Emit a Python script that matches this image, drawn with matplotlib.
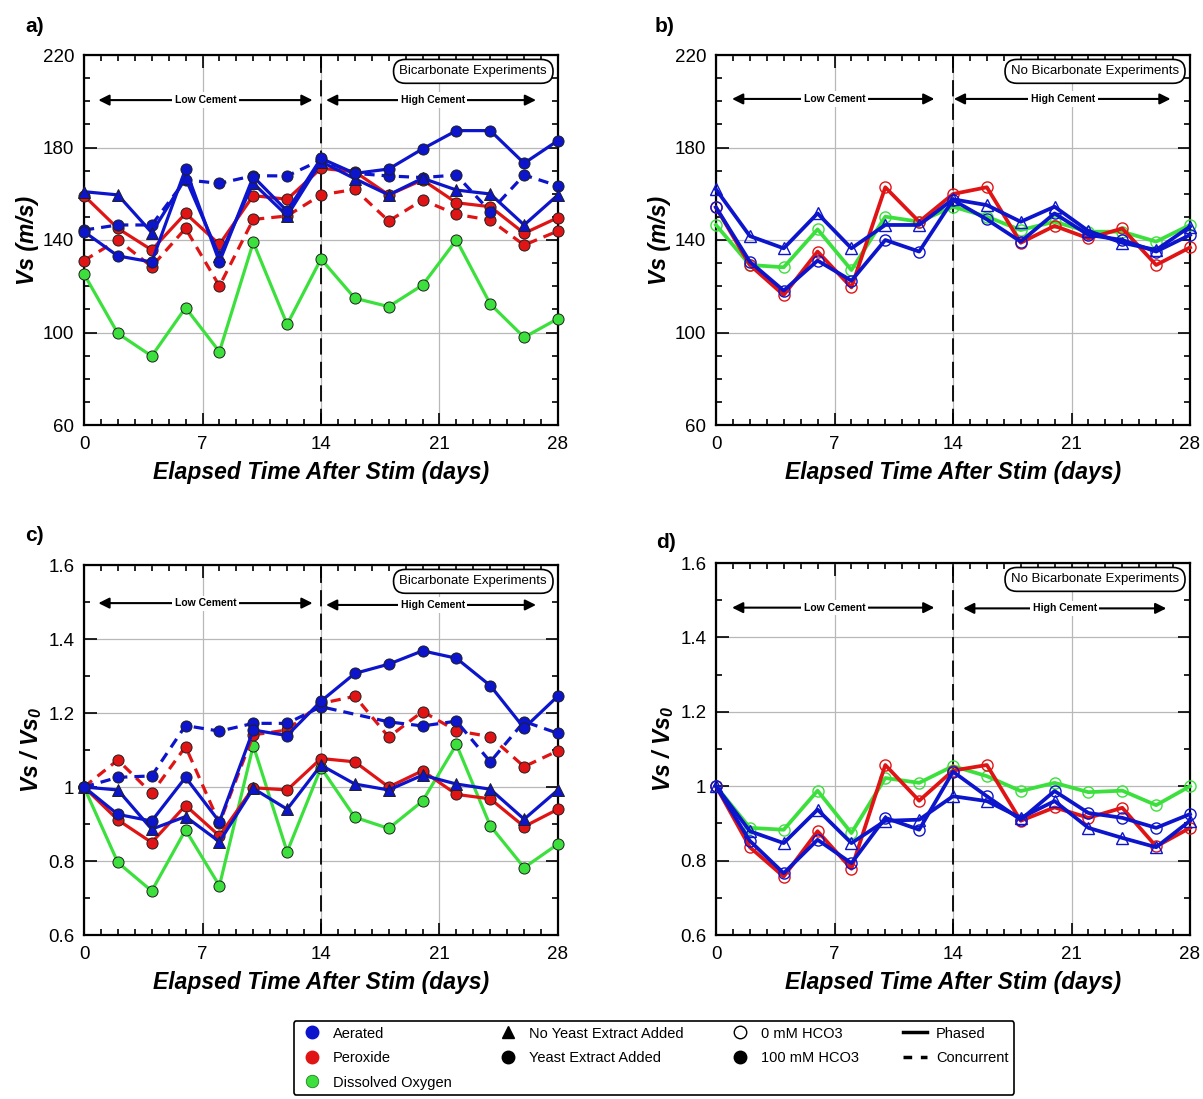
import matplotlib
matplotlib.use("Agg")
import matplotlib.pyplot as plt
from matplotlib.lines import Line2D
from matplotlib.ticker import MultipleLocator
import numpy as np

plt.rcParams['font.family'] = ['Liberation Sans', 'DejaVu Sans']
plt.rcParams['mathtext.fontset'] = 'custom'
plt.rcParams['mathtext.rm'] = 'Liberation Sans:italic:bold'
plt.rcParams['mathtext.it'] = 'Liberation Sans:italic:bold'
plt.rcParams['mathtext.default'] = 'rm'

days = [0, 2, 4, 6, 8, 10, 12, 14, 16, 18, 20, 22, 24, 26, 28]
days_no16 = [0, 2, 4, 6, 8, 10, 12, 14, 18, 20, 22, 24, 26, 28]

# ---- Panel a: Vs, bicarbonate (100 mM HCO3) ----
a_aer_tri = [160.9, 159.5, 143.2, 166.7, 133.0, 164.5, 150.5, 173.9, 166.5, 159.5, 166.7, 161.6, 159.9, 146.5, 159.5]
a_aer_circ = [143.6, 133.1, 130.5, 170.7, 130.5, 167.4, 152.5, 175.3, 168.8, 170.7, 179.4, 187.3, 187.3, 173.2, 183.0]
a_aer_conc = [144.3, 146.5, 146.5, 166.0, 164.5, 167.8, 167.7, 174.6, 168.8, 167.7, 167.0, 168.1, 152.3, 168.1, 163.4]
a_per_phased = [159.2, 145.0, 135.7, 151.5, 138.1, 159.2, 157.6, 171.0, 169.5, 159.5, 166.0, 156.1, 154.4, 142.9, 149.7]
a_per_conc = [131.1, 140.0, 128.5, 145.0, 120.1, 148.9, 150.4, 159.5, 161.9, 148.2, 157.3, 151.1, 148.6, 137.8, 143.9]
a_do_phased = [125.3, 99.6, 89.8, 110.7, 91.7, 139.0, 103.5, 131.8, 114.8, 111.2, 120.5, 140.0, 112.3, 97.9, 106.0]

# ---- Panel b: Vs, no bicarbonate (0 mM HCO3) ----
b_aer_tri = [161.9, 141.7, 136.4, 151.5, 136.4, 146.5, 146.5, 157.6, 155.1, 147.9, 154.4, 143.9, 138.8, 135.7, 145.8]
b_aer_circ = [154.1, 130.6, 118.1, 131.1, 122.4, 140.0, 135.0, 157.3, 148.9, 139.3, 151.5, 142.2, 140.0, 135.0, 142.2]
b_per = [154.1, 129.2, 116.2, 135.0, 119.5, 162.8, 147.9, 159.9, 162.8, 138.8, 146.1, 140.7, 145.0, 129.2, 136.8]
b_do = [146.5, 129.2, 128.2, 144.6, 127.0, 150.1, 147.9, 154.4, 150.1, 144.3, 147.9, 143.6, 143.6, 139.3, 146.5]

# ---- Panel c: Vs/Vs0, bicarbonate ----
c_aer_tri = [1.0, 0.992, 0.886, 0.92, 0.852, 0.996, 0.94, 1.059, 1.008, 0.992, 1.032, 1.008, 0.994, 0.913, 0.992]
c_aer_circ = [1.0, 0.926, 0.908, 1.026, 0.906, 1.154, 1.139, 1.232, 1.307, 1.332, 1.368, 1.348, 1.274, 1.159, 1.246]
c_aer_conc = [1.0, 1.026, 1.03, 1.166, 1.151, 1.172, 1.172, 1.217, 1.176, 1.165, 1.178, 1.068, 1.177, 1.145]  # no day 16
c_per_phased = [1.0, 0.911, 0.85, 0.95, 0.868, 0.998, 0.992, 1.077, 1.068, 1.0, 1.044, 0.98, 0.968, 0.893, 0.94]
c_per_conc = [1.0, 1.073, 0.983, 1.109, 0.902, 1.141, 1.154, 1.226, 1.245, 1.135, 1.204, 1.152, 1.136, 1.055, 1.098]
c_do_phased = [1.0, 0.796, 0.719, 0.884, 0.733, 1.112, 0.825, 1.052, 0.918, 0.888, 0.962, 1.115, 0.895, 0.782, 0.846]

# ---- Panel d: Vs/Vs0, no bicarbonate ----
d_aer_tri = [1.0, 0.879, 0.847, 0.937, 0.847, 0.907, 0.91, 0.973, 0.96, 0.915, 0.96, 0.888, 0.861, 0.836, 0.907]
d_aer_circ = [1.0, 0.853, 0.766, 0.856, 0.793, 0.915, 0.883, 1.039, 0.973, 0.91, 0.987, 0.928, 0.915, 0.888, 0.925]
d_per = [1.0, 0.836, 0.757, 0.879, 0.778, 1.057, 0.961, 1.042, 1.057, 0.907, 0.943, 0.915, 0.942, 0.838, 0.888]
d_do = [1.0, 0.888, 0.883, 0.988, 0.874, 1.022, 1.009, 1.054, 1.027, 0.987, 1.009, 0.984, 0.988, 0.949, 1.0]

x_ticks = [0, 7, 14, 21, 28]
vs_ticks = [60, 100, 140, 180, 220]
ratio_ticks = [0.6, 0.8, 1.0, 1.2, 1.4, 1.6]
ratio_labels = ['0.6', '0.8', '1', '1.2', '1.4', '1.6']

BLUE = '#0c14cc'
RED = '#e01414'
GREEN = '#3ce03c'

W, H = 1203, 1099
fig = plt.figure(figsize=(W / 100, H / 100), dpi=100)


def box(l, t, r, b):
    return [l / W, 1 - b / H, (r - l) / W, (b - t) / H]


axa = fig.add_axes(box(84, 55, 558, 425))
axb = fig.add_axes(box(716, 55, 1190, 425))
axc = fig.add_axes(box(84, 565, 558, 935))
axd = fig.add_axes(box(716, 563, 1190, 935))

LW = 2.3
MS = 8


def filled(ax, y, color, marker, ls='-', z=3, x=days):
    kw = dict(color=color, lw=LW, marker=marker, ms=MS if marker == 'o' else MS + 0.5,
              mfc=color, mec='#202020', mew=0.7, zorder=z, clip_on=False)
    if ls == '--':
        ax.plot(x, y, linestyle=(0, (3.2, 2.2)), **kw)
    else:
        ax.plot(x, y, linestyle='-', **kw)


def opened(ax, y, color, marker, z=3):
    ax.plot(days, y, color=color, lw=LW + 0.4, marker=marker, ms=MS, mfc='none',
            mec=color, mew=1.0, zorder=z, clip_on=False)


# panel a
filled(axa, a_do_phased, GREEN, 'o', z=3)
filled(axa, a_per_conc, RED, 'o', '--', z=4)
filled(axa, a_per_phased, RED, 'o', z=5)
filled(axa, a_aer_conc, BLUE, 'o', '--', z=6)
filled(axa, a_aer_tri, BLUE, '^', z=7)
filled(axa, a_aer_circ, BLUE, 'o', z=8)

# panel b
opened(axb, b_do, GREEN, 'o', z=3)
opened(axb, b_per, RED, 'o', z=4)
opened(axb, b_aer_tri, BLUE, '^', z=5)
opened(axb, b_aer_circ, BLUE, 'o', z=6)

# panel c
filled(axc, c_do_phased, GREEN, 'o', z=3)
filled(axc, c_per_conc, RED, 'o', '--', z=4)
filled(axc, c_per_phased, RED, 'o', z=5)
filled(axc, c_aer_conc, BLUE, 'o', '--', z=6, x=days_no16)
filled(axc, c_aer_tri, BLUE, '^', z=7)
filled(axc, c_aer_circ, BLUE, 'o', z=8)

# panel d
opened(axd, d_do, GREEN, 'o', z=3)
opened(axd, d_per, RED, 'o', z=4)
opened(axd, d_aer_tri, BLUE, '^', z=5)
opened(axd, d_aer_circ, BLUE, 'o', z=6)


def style(ax, yticks, ylabels, minor, ylabel, label_box, arrows):
    ax.set_xlim(0, 28)
    ax.set_ylim(yticks[0], yticks[-1])
    ax.set_xticks(x_ticks)
    ax.set_xticklabels([str(t) for t in x_ticks])
    ax.set_yticks(yticks)
    ax.set_yticklabels(ylabels)
    ax.xaxis.set_minor_locator(MultipleLocator(1))
    ax.yaxis.set_minor_locator(MultipleLocator(minor))
    ax.tick_params(which='both', direction='in', top=True, right=True, width=1.2,
                   labelsize=13.5)
    ax.tick_params(axis='x', which='both', pad=8)
    ax.tick_params(axis='y', which='both', pad=7)
    ax.tick_params(which='major', length=9)
    ax.tick_params(which='minor', length=4.5)
    for s in ax.spines.values():
        s.set_linewidth(1.6)
    ax.grid(True, which='major', color='#b8b8b8', lw=0.9, zorder=0)
    ax.axvline(14, color='k', lw=1.3, linestyle=(0, (9, 4)), zorder=2)
    ax.set_xlabel('Elapsed Time After Stim (days)', fontsize=16.5, fontweight='bold',
                  fontstyle='italic', labelpad=6)
    ax.set_ylabel(ylabel, fontsize=16.5, fontweight='bold', fontstyle='italic', labelpad=3)
    ax.text(0.977, 0.972, label_box, transform=ax.transAxes, ha='right', va='top',
            fontsize=9.5, zorder=20,
            bbox=dict(boxstyle='round,pad=0.45,rounding_size=0.9', fc='white', ec='k', lw=1.2))
    for (x0, x1, y, txt, xt) in arrows:
        ax.annotate('', xy=(x0, y), xytext=(x1, y),
                    arrowprops=dict(arrowstyle='<|-|>', color='k', lw=1.5,
                                    mutation_scale=16, shrinkA=0, shrinkB=0), zorder=15)
        ax.text(xt, y, txt, ha='center', va='center', fontsize=7.5, fontweight='bold',
                zorder=16, bbox=dict(boxstyle='square,pad=0.25', fc='white', ec='none'))


style(axa, vs_ticks, [str(t) for t in vs_ticks], 10, 'Vs (m/s)', 'Bicarbonate Experiments',
      [(0.85, 13.5, 200.5, 'Low Cement', 7.2), (14.3, 26.7, 200.5, 'High Cement', 20.6)])
style(axb, vs_ticks, [str(t) for t in vs_ticks], 10, 'Vs (m/s)', 'No Bicarbonate Experiments',
      [(0.95, 12.9, 201, 'Low Cement', 7.0), (14.05, 26.85, 201, 'High Cement', 20.5)])
style(axc, ratio_ticks, ratio_labels, 0.1, r'Vs / Vs$_0$', 'Bicarbonate Experiments',
      [(0.85, 13.5, 1.497, 'Low Cement', 7.2), (14.3, 26.7, 1.492, 'High Cement', 20.6)])
style(axd, ratio_ticks, ratio_labels, 0.1, r'Vs / Vs$_0$', 'No Bicarbonate Experiments',
      [(0.95, 12.9, 1.48, 'Low Cement', 7.0), (14.6, 26.6, 1.478, 'High Cement', 20.6)])

for lab, x, y in [('a)', 35, 27), ('b)', 665, 27), ('c)', 34, 536), ('d)', 666, 542)]:
    fig.text(x / W, 1 - y / H, lab, fontsize=15, fontweight='bold', ha='center', va='center')

handles = [
    Line2D([], [], ls='none', marker='o', ms=9, mfc=BLUE, mec=BLUE),
    Line2D([], [], ls='none', marker='o', ms=9, mfc=RED, mec=RED),
    Line2D([], [], ls='none', marker='o', ms=9, mfc=GREEN, mec='#208020', mew=0.6),
    Line2D([], [], ls='none', marker='^', ms=8, mfc='k', mec='k'),
    Line2D([], [], ls='none', marker='o', ms=9, mfc='k', mec='k'),
    Line2D([], [], ls='none', marker='o', ms=9, mfc='none', mec='k', mew=1.0),
    Line2D([], [], ls='none', marker='o', ms=9, mfc='k', mec='k'),
    Line2D([], [], ls='-', color='k', lw=2.5),
    Line2D([], [], ls=(0, (2.5, 2.5)), color='k', lw=2.5),
]
labels = ['Aerated', 'Peroxide', 'Dissolved Oxygen', 'No Yeast Extract Added',
          'Yeast Extract Added', '0 mM HCO3', '100 mM HCO3', 'Phased', 'Concurrent']
leg = fig.legend(handles, labels, ncol=4, loc='center', bbox_to_anchor=(654 / W, 1 - 1058 / H),
                 fontsize=10.5, frameon=True, fancybox=True, edgecolor='k', framealpha=1,
                 columnspacing=3.0, handlelength=1.7, handletextpad=0.6, labelspacing=0.72,
                 borderpad=0.4)
leg.get_frame().set_linewidth(1.2)

fig.savefig('out.png', dpi=100)
